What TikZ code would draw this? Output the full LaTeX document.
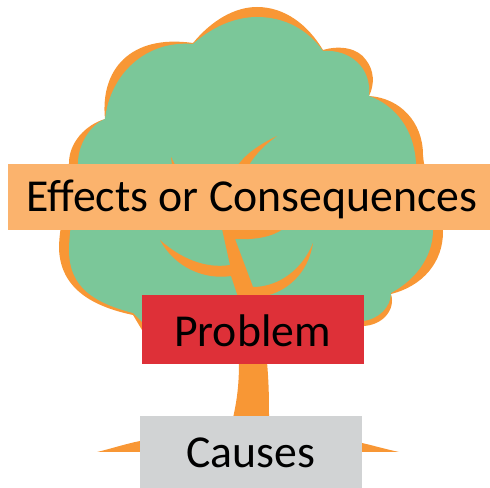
\documentclass[tikz,border=0pt]{standalone}
\usepackage{fontspec}
\setmainfont{Carlito}
\definecolor{treeorange}{HTML}{F89735}
\definecolor{treegreen}{HTML}{7BC799}
\definecolor{bannerfill}{HTML}{FBB36D}
\definecolor{problemfill}{HTML}{DE3038}
\definecolor{causefill}{HTML}{D1D3D4}
\tikzset{
  labelbox/.style={anchor=base,inner sep=0pt,text=black,font=\fontsize{34.3pt}{40pt}\selectfont},
  barkfill/.style={fill=treeorange,draw=none},
  leaffill/.style={fill=treegreen,draw=none}
}
\begin{document}
\begin{tikzpicture}[x=0.75pt,y=-0.75pt]
\useasboundingbox (0,0) rectangle (490,488);
% orange crown
\path[barkfill] (193,43)
  .. controls (212,20) and (235,7) .. (257,7)
  .. controls (285,7) and (308,25) .. (323,50)
  .. controls (340,45) and (358,48) .. (366,60)
  .. controls (374,70) and (375,84) .. (369,96)
  .. controls (400,98) and (423,122) .. (423,155)
  .. controls (425,185) and (443,205) .. (443,232)
  .. controls (443,262) and (423,286) .. (391,294)
  .. controls (396,310) and (382,326) .. (362,326)
  -- (142,335) -- (142,330) -- (133,315)
  .. controls (95,307) and (60,290) .. (59,248)
  .. controls (59,225) and (69,190) .. (69,163)
  .. controls (69,143) and (85,125) .. (105,119)
  .. controls (100,70) and (130,34) .. (193,43) -- cycle;
% green crown
\path[leaffill] (193,44)
  .. controls (212,27) and (235,17) .. (257,17)
  .. controls (285,17) and (308,30) .. (323,51)
  .. controls (350,49) and (372,68) .. (369,96)
  .. controls (395,105) and (415,130) .. (416,165)
  .. controls (420,190) and (433,205) .. (433,232)
  .. controls (432,258) and (415,280) .. (391,293)
  .. controls (391,307) and (378,320) .. (362,321)
  -- (142,335) -- (142,322) -- (133,313)
  .. controls (95,303) and (69,288) .. (69,250)
  .. controls (69,225) and (78,190) .. (78,163)
  .. controls (78,145) and (90,125) .. (105,119)
  .. controls (110,75) and (145,40) .. (193,44) -- cycle;
% branches
\path[barkfill] (277,136) .. controls (258,145) and (245,155) .. (238,165) -- (249,165) .. controls (257,152) and (266,144) .. (277,136) -- cycle;
\path[barkfill] (171,157) -- (175,165) -- (172,165) -- cycle;
\path[barkfill] (222,229) -- (230,265)
  .. controls (205,269) and (180,258) .. (160,240)
  .. controls (175,268) and (205,280) .. (231,276)
  -- (238,297) -- (265,296)
  .. controls (285,292) and (308,275) .. (313,243)
  .. controls (303,268) and (280,287) .. (253,287)
  -- (235,239)
  .. controls (255,240) and (272,237) .. (283,229) -- cycle;
% trunk and roots
\path[barkfill] (239,362) .. controls (239,385) and (237,400) .. (233,418)
  -- (140,441) .. controls (125,444) and (110,449) .. (97,452)
  -- (399,452) .. controls (385,449) and (375,446) .. (362,443)
  -- (269,418) .. controls (269,400) and (269,385) .. (267,362) -- cycle;
% boxes
\fill[bannerfill] (8,164) rectangle (490,230);
\fill[problemfill] (142,295) rectangle (364,364);
\fill[causefill] (140,416) rectangle (362,488);
\node[labelbox] (effects) at (252,212) {Effects or Consequences};
\node[labelbox] (problem) at (252.5,347) {Problem};
\node[labelbox] (causes) at (251,468) {Causes};
\end{tikzpicture}
\end{document}
